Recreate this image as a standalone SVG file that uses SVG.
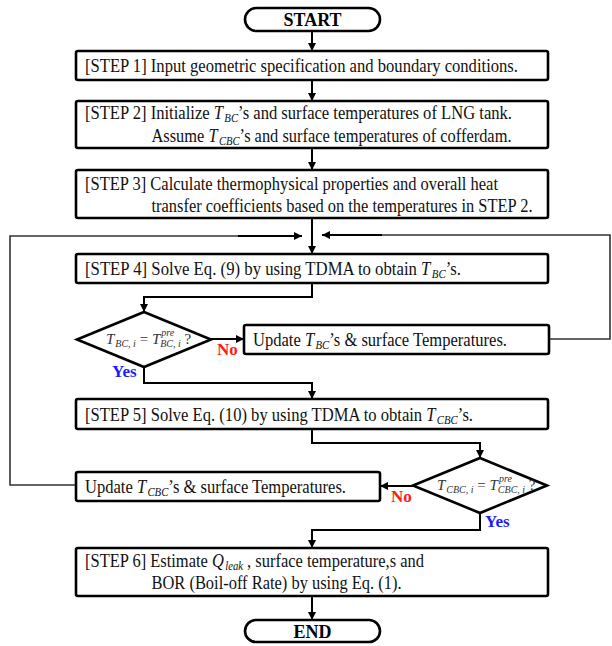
<svg xmlns="http://www.w3.org/2000/svg" width="612" height="646" viewBox="0 0 612 646">
  <defs>
    <marker id="arrow" markerUnits="userSpaceOnUse" markerWidth="9" markerHeight="9" refX="8" refY="4" orient="auto">
      <path d="M0,0 L8,4 L0,8 z" fill="#000"/>
    </marker>
    <style>
      .box { fill: #fff; stroke: #000; stroke-width: 2.6; }
      .term { fill: #fff; stroke: #000; stroke-width: 2.6; }
      .dia { fill: #fff; stroke: #000; stroke-width: 2.6; stroke-linejoin: miter; }
      .txt { font-family: "Liberation Serif", "Times New Roman", serif; font-size: 18.5px; fill: #111; }
      .it { font-style: italic; }
      .sub { font-size: 12px; font-style: italic; }
      .ttl { font-family: "Liberation Serif", "Times New Roman", serif; font-size: 18px; font-weight: bold; fill: #000; }
      .cond { font-family: "Liberation Serif", "Times New Roman", serif; font-size: 15px; fill: #333; }
      .csub { font-size: 10px; font-style: italic; }
      .no { font-family: "Liberation Serif", "Times New Roman", serif; font-size: 17px; font-weight: bold; fill: #ff1a1a; }
      .yes { font-family: "Liberation Serif", "Times New Roman", serif; font-size: 17px; font-weight: bold; fill: #1a1aff; }
      .link { fill: none; stroke: #000; stroke-width: 2; marker-end: url(#arrow); }
      .loop { fill: none; stroke: #333; stroke-width: 1.6; }
    </style>
  </defs>

  <!-- connectors -->
  <g id="connectors">
    <path class="link" d="M312,31 V51"/>
    <path class="link" d="M312,80 V101"/>
    <path class="link" d="M312,148 V170"/>
    <path class="link" d="M312,218 V254"/>
    <path class="loop" d="M76,485 H10 V236 H240"/>
    <path class="link" d="M238,236 H302"/>
    <path class="loop" d="M549,339 H610 V235 H380"/>
    <path class="link" d="M382,235 H322"/>
    <path class="link" d="M312,283 V297 H144 V312"/>
    <path class="link" d="M211,339 H244"/>
    <path class="link" d="M144,367 V383 H312 V399"/>
    <path class="link" d="M312,429 V443 H480 V458"/>
    <path class="link" d="M413,486 H380"/>
    <path class="link" d="M480,513 V530 H312 V548"/>
    <path class="link" d="M312,596 V620"/>
  </g>

  <!-- start -->
  <g id="start">
    <rect class="term" x="245" y="8" width="135" height="23" rx="11.5"/>
    <text class="ttl" x="312.5" y="26" text-anchor="middle">START</text>
  </g>

  <!-- step 1 -->
  <g id="step1">
    <rect class="box" x="76" y="51" width="472" height="29" rx="2"/>
    <text class="txt" x="85" y="71.5" textLength="433" lengthAdjust="spacingAndGlyphs">[STEP 1] Input geometric specification and boundary conditions.</text>
  </g>

  <!-- step 2 -->
  <g id="step2">
    <rect class="box" x="76" y="101" width="472" height="47" rx="2"/>
    <text class="txt" x="85" y="119" textLength="427" lengthAdjust="spacingAndGlyphs">[STEP 2] Initialize  <tspan class="it">T</tspan><tspan class="sub" dx="1.5" dy="3">BC</tspan><tspan dy="-3">’s and surface temperatures  of LNG tank.</tspan></text>
    <text class="txt" x="151.5" y="142" textLength="360" lengthAdjust="spacingAndGlyphs">Assume <tspan class="it">T</tspan><tspan class="sub" dx="1.5" dy="3">CBC</tspan><tspan dy="-3">’s and surface temperatures  of cofferdam.</tspan></text>
  </g>

  <!-- step 3 -->
  <g id="step3">
    <rect class="box" x="76" y="170" width="472" height="48" rx="2"/>
    <text class="txt" x="85" y="190" textLength="413" lengthAdjust="spacingAndGlyphs">[STEP 3] Calculate thermophysical properties and overall heat</text>
    <text class="txt" x="151.5" y="212" textLength="381" lengthAdjust="spacingAndGlyphs">transfer coefficients based on the temperatures in STEP 2.</text>
  </g>

  <!-- step 4 -->
  <g id="step4">
    <rect class="box" x="76" y="254" width="472" height="29" rx="2"/>
    <text class="txt" x="85" y="274.5" textLength="376" lengthAdjust="spacingAndGlyphs">[STEP 4] Solve Eq. (9) by using TDMA to obtain <tspan class="it">T</tspan><tspan class="sub" dx="1.5" dy="3">BC</tspan><tspan dy="-3">’s.</tspan></text>
  </g>

  <!-- check T_BC convergence -->
  <g id="check-bc">
    <polygon class="dia" points="144,312 211,339.5 144,367 77,339.5"/>
    <text class="cond" x="106" y="344"><tspan class="it">T</tspan><tspan class="csub" dx="1" dy="3">BC, i</tspan><tspan dy="-3"> = </tspan><tspan class="it">T</tspan><tspan class="csub" dx="1" dy="-8">pre</tspan><tspan class="csub" dx="-14" dy="11">BC, i</tspan><tspan dy="-3"> ?</tspan></text>
    <text class="no" x="217" y="355">No</text>
    <text class="yes" x="112" y="377">Yes</text>
  </g>

  <!-- update T_BC -->
  <g id="update-bc">
    <rect class="box" x="244" y="325" width="305" height="29" rx="2"/>
    <text class="txt" x="253" y="345.5" textLength="254" lengthAdjust="spacingAndGlyphs">Update <tspan class="it">T</tspan><tspan class="sub" dx="1.5" dy="3">BC</tspan><tspan dy="-3">’s &amp; surface Temperatures.</tspan></text>
  </g>

  <!-- step 5 -->
  <g id="step5">
    <rect class="box" x="76" y="399" width="472" height="30" rx="2"/>
    <text class="txt" x="85" y="420.5" textLength="388" lengthAdjust="spacingAndGlyphs">[STEP 5] Solve Eq. (10) by using TDMA to obtain <tspan class="it">T</tspan><tspan class="sub" dx="1.5" dy="3">CBC</tspan><tspan dy="-3">’s.</tspan></text>
  </g>

  <!-- check T_CBC convergence -->
  <g id="check-cbc">
    <polygon class="dia" points="480,458 547,485.5 480,513 413,485.5"/>
    <text class="cond" x="437" y="490"><tspan class="it">T</tspan><tspan class="csub" dx="1" dy="3">CBC, i</tspan><tspan dy="-3"> = </tspan><tspan class="it">T</tspan><tspan class="csub" dx="1" dy="-8">pre</tspan><tspan class="csub" dx="-14" dy="11">CBC, i</tspan><tspan dy="-3"> ?</tspan></text>
    <text class="no" x="391" y="502">No</text>
    <text class="yes" x="485" y="527">Yes</text>
  </g>

  <!-- update T_CBC -->
  <g id="update-cbc">
    <rect class="box" x="76" y="472" width="304" height="29" rx="2"/>
    <text class="txt" x="85" y="492.5" textLength="261" lengthAdjust="spacingAndGlyphs">Update <tspan class="it">T</tspan><tspan class="sub" dx="1.5" dy="3">CBC</tspan><tspan dy="-3">’s &amp; surface Temperatures.</tspan></text>
  </g>

  <!-- step 6 -->
  <g id="step6">
    <rect class="box" x="76" y="548" width="472" height="48" rx="2"/>
    <text class="txt" x="85" y="567" textLength="339" lengthAdjust="spacingAndGlyphs">[STEP 6] Estimate <tspan class="it">Q</tspan><tspan class="sub" dx="1.5" dy="3">leak</tspan><tspan dy="-3"> , surface temperature,s  and</tspan></text>
    <text class="txt" x="151.5" y="589" textLength="250" lengthAdjust="spacingAndGlyphs">BOR (Boil-off Rate) by using Eq. (1).</text>
  </g>

  <!-- end -->
  <g id="end">
    <rect class="term" x="245" y="620" width="135" height="22" rx="11"/>
    <text class="ttl" x="312.5" y="637.5" text-anchor="middle">END</text>
  </g>
</svg>
